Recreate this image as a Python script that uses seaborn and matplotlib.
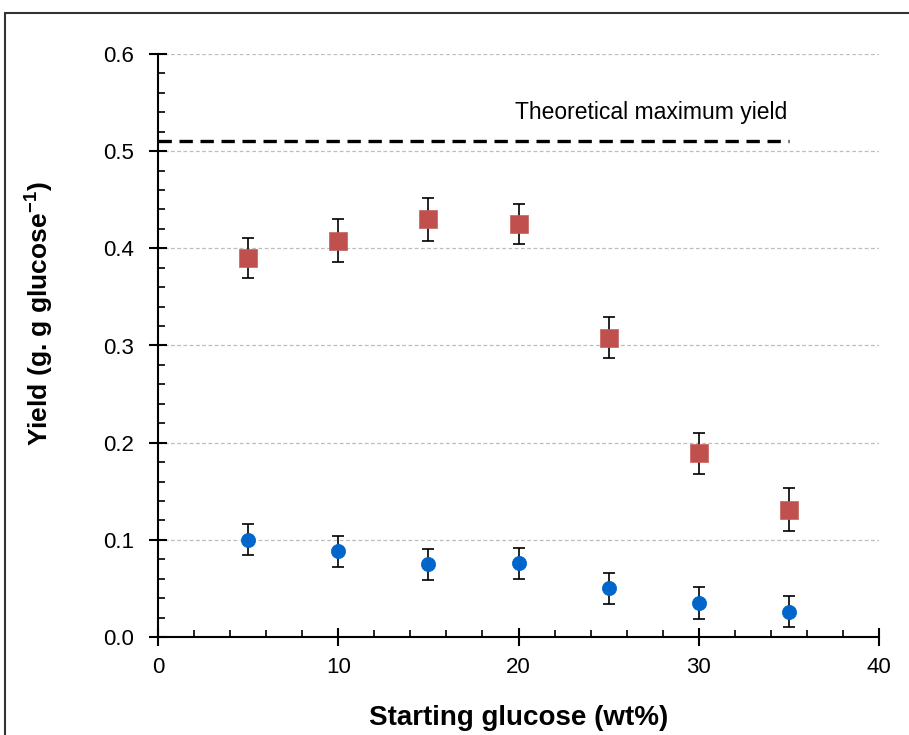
import matplotlib
matplotlib.use("Agg")
import matplotlib.pyplot as plt
import seaborn as sns
import pandas as pd
from matplotlib.ticker import MultipleLocator, FormatStrFormatter
from matplotlib.patches import Rectangle

# ---- data ----
glucose = [5, 10, 15, 20, 25, 30, 35]
yield_sq = [0.390, 0.408, 0.430, 0.425, 0.308, 0.189, 0.131]
err_sq = [0.021, 0.022, 0.022, 0.021, 0.021, 0.021, 0.022]
yield_ci = [0.100, 0.088, 0.075, 0.076, 0.050, 0.035, 0.026]
err_ci = [0.016, 0.016, 0.016, 0.016, 0.016, 0.016, 0.016]
theo_x = [0, 35]
theo_y = [0.51, 0.51]
theo_label = "Theoretical maximum yield"
xlabel = "Starting glucose (wt%)"
ylabel = r"Yield (g. g glucose$^{\mathbf{-1}}$)"

sns.set_theme(style="white")
plt.rcParams["font.family"] = ["Liberation Sans", "DejaVu Sans"]
plt.rcParams["mathtext.fontset"] = "custom"
plt.rcParams["mathtext.rm"] = "Liberation Sans"
plt.rcParams["mathtext.bf"] = "Liberation Sans:bold"
for k in ["text.color", "axes.labelcolor", "xtick.color", "ytick.color"]:
    plt.rcParams[k] = "black"

fig = plt.figure(figsize=(9.09, 7.35), dpi=100)
ax = fig.add_axes([158/909, 1-637/735, (879-158)/909, (637-54)/735])

# gridlines
ax.yaxis.grid(True, color="#BDBDBD", linestyle=(0, (3, 2)), linewidth=0.9)
ax.set_axisbelow(True)

# theoretical line
sns.lineplot(x=theo_x, y=theo_y, ax=ax, color="black", linewidth=2.4,
             linestyle=(0, (4, 2.3)), zorder=2)
ax.text(34.9, 0.540, theo_label, ha="right", va="center", fontsize=16.5)

# error bars
ax.errorbar(glucose, yield_sq, yerr=err_sq, fmt="none", ecolor="black",
            elinewidth=1.2, capsize=4.5, capthick=1.2, zorder=3)
ax.errorbar(glucose, yield_ci, yerr=err_ci, fmt="none", ecolor="black",
            elinewidth=1.2, capsize=4.5, capthick=1.2, zorder=3)

df_sq = pd.DataFrame({"x": glucose, "y": yield_sq})
df_ci = pd.DataFrame({"x": glucose, "y": yield_ci})
sns.scatterplot(data=df_sq, x="x", y="y", ax=ax, marker="s", s=150,
                color="#C0504D", edgecolor="#C86060", linewidth=0.5, zorder=4)
sns.scatterplot(data=df_ci, x="x", y="y", ax=ax, marker="o", s=105,
                color="#0066CC", edgecolor="#0066CC", linewidth=0.5, zorder=4)

ax.set_xlim(0, 40)
ax.set_ylim(0, 0.6)
ax.xaxis.set_major_locator(MultipleLocator(10))
ax.xaxis.set_minor_locator(MultipleLocator(2))
ax.yaxis.set_major_locator(MultipleLocator(0.1))
ax.yaxis.set_minor_locator(MultipleLocator(0.02))
ax.yaxis.set_major_formatter(FormatStrFormatter("%.1f"))

for s in ["top", "right"]:
    ax.spines[s].set_visible(False)
for s in ["left", "bottom"]:
    ax.spines[s].set_color("black")
    ax.spines[s].set_linewidth(1.5)

ax.tick_params(which="major", direction="inout", length=13, width=1.5,
               color="black", labelsize=16)
ax.tick_params(axis="x", which="major", pad=8)
ax.tick_params(axis="y", which="major", pad=11)
ax.tick_params(which="minor", direction="in", length=5, width=1.2,
               color="black")
ax.tick_params(axis="both", which="both", bottom=True, left=True)

ax.set_xlabel(xlabel, fontsize=20, fontweight="bold")
ax.set_ylabel(ylabel, fontsize=19, fontweight="bold")
ax.xaxis.set_label_coords(0.5, -(718-637)/583, transform=ax.transAxes)
ax.yaxis.set_label_coords(-(158-39)/721, (637-314)/583, transform=ax.transAxes)
ax.xaxis.label.set_va("center")
ax.yaxis.label.set_va("center")

# outer frame
fig.patches.append(Rectangle((5/909, -0.1), 1.2, 1 - 13/735 + 0.1,
                             transform=fig.transFigure, fill=False,
                             edgecolor="#333333", linewidth=1.5))

fig.savefig("out.png", dpi=100)
